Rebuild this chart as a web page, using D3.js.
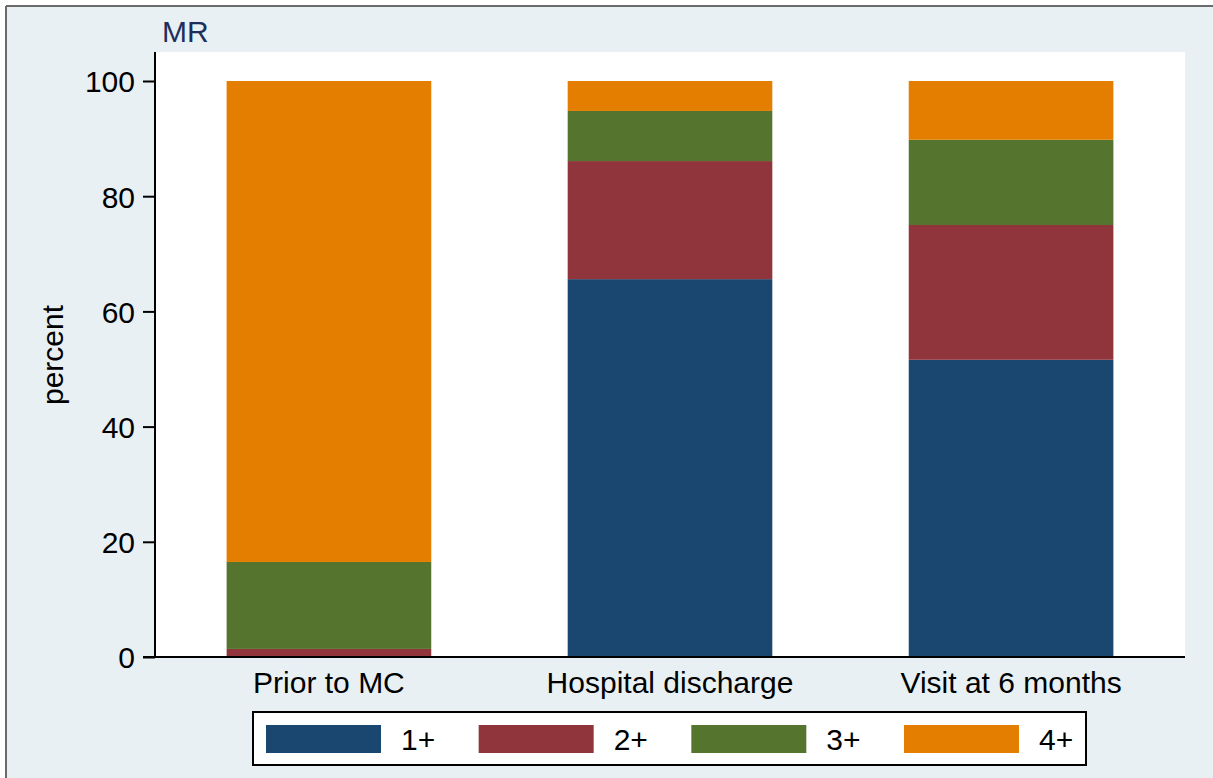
<!DOCTYPE html>
<html lang="en">
<head>
  <meta charset="UTF-8" />
  <title>MR - stacked percent</title>
  <style>
    body { margin: 0; padding: 0; background: #fff; }
    svg { display: block; font-family: "Liberation Sans", Arial, sans-serif; }
    .tick text { font-size: 30px; fill: #000; }
  </style>
</head>
<body>
  <svg id="chart" width="1213" height="778"></svg>
  <script src="https://d3js.org/d3.v7.min.js"></script>
  <script>
    // data (percent of patients per MR grade)
    const categories = ["Prior to MC", "Hospital discharge", "Visit at 6 months"];
    const grades = ["1+", "2+", "3+", "4+"];
    const grade1 = [0, 65.6, 51.6];
    const grade2 = [1.4, 20.5, 23.4];
    const grade3 = [15.1, 8.7, 14.8];
    const grade4 = [83.5, 5.2, 10.2];
    const yTicks = [0, 20, 40, 60, 80, 100];
    const colors = ["#1a476f", "#90353b", "#55752f", "#e37e00"];

    const rows = categories.map((c, i) => ({
      cat: c, "1+": grade1[i], "2+": grade2[i], "3+": grade3[i], "4+": grade4[i]
    }));

    const W = 1213, H = 778;
    const plot = { left: 155, right: 1185, top: 52, bottom: 657 };

    const svg = d3.select("#chart");

    // graph region background + frame lines
    svg.append("rect").attr("width", W).attr("height", H).attr("fill", "#fff");
    svg.append("rect").attr("x", 7).attr("y", 7).attr("width", W - 7).attr("height", H - 7)
      .attr("fill", "#e8f0f3");
    svg.append("line").attr("x1", 6).attr("x2", W).attr("y1", 6).attr("y2", 6)
      .attr("stroke", "#6b6b6b").attr("stroke-width", 2);
    svg.append("line").attr("x1", 6).attr("x2", 6).attr("y1", 6).attr("y2", H)
      .attr("stroke", "#6b6b6b").attr("stroke-width", 2);

    // plot region
    svg.append("rect")
      .attr("x", plot.left).attr("y", plot.top)
      .attr("width", plot.right - plot.left).attr("height", plot.bottom - plot.top)
      .attr("fill", "#fff");

    const x = d3.scaleBand()
      .domain(categories)
      .range([plot.left, plot.right])
      .paddingInner(0.4)
      .paddingOuter(0.21);

    const y = d3.scaleLinear().domain([0, 100]).range([plot.bottom, 81]);

    const stacked = d3.stack().keys(grades)(rows);

    svg.append("g").selectAll("g")
      .data(stacked)
      .enter().append("g")
      .attr("fill", (d, i) => colors[i])
      .selectAll("rect")
      .data(d => d)
      .enter().append("rect")
      .attr("x", d => x(d.data.cat))
      .attr("width", x.bandwidth())
      .attr("y", d => y(d[1]))
      .attr("height", d => y(d[0]) - y(d[1]));

    // y axis
    const yAxis = svg.append("g")
      .attr("transform", `translate(${plot.left},0)`)
      .call(d3.axisLeft(y).tickValues(yTicks).tickSize(12).tickPadding(8).tickSizeOuter(0));
    yAxis.select(".domain").remove();
    yAxis.selectAll(".tick line").attr("stroke", "#000").attr("stroke-width", 2);
    yAxis.selectAll(".tick text").attr("dy", "0.36em");
    svg.append("line")
      .attr("x1", plot.left).attr("x2", plot.left)
      .attr("y1", plot.top).attr("y2", plot.bottom + 1)
      .attr("stroke", "#000").attr("stroke-width", 2);

    // x axis
    const xAxis = svg.append("g")
      .attr("transform", `translate(0,${plot.bottom})`)
      .call(d3.axisBottom(x).tickSize(0).tickPadding(15));
    xAxis.select(".domain").remove();
    xAxis.selectAll(".tick text").attr("dy", "0.71em");
    svg.append("line")
      .attr("x1", plot.left - 12).attr("x2", plot.right)
      .attr("y1", plot.bottom).attr("y2", plot.bottom)
      .attr("stroke", "#000").attr("stroke-width", 2);

    // titles
    svg.append("text")
      .attr("x", 162).attr("y", 42)
      .attr("font-size", 30)
      .attr("fill", "#1e2f5a")
      .text("MR");

    svg.append("text")
      .attr("transform", "translate(63,355) rotate(-90)")
      .attr("text-anchor", "middle")
      .attr("font-size", 30)
      .attr("fill", "#000")
      .text("percent");

    // legend
    const legend = svg.append("g");
    legend.append("rect")
      .attr("x", 253).attr("y", 712).attr("width", 833).attr("height", 53)
      .attr("fill", "#fff").attr("stroke", "#000").attr("stroke-width", 2);
    const lx = d3.scalePoint().domain(grades).range([266, 904]);
    const item = legend.selectAll("g.item")
      .data(grades)
      .enter().append("g")
      .attr("class", "item")
      .attr("transform", d => `translate(${lx(d)},725)`);
    item.append("rect")
      .attr("width", 115).attr("height", 28)
      .attr("fill", (d, i) => colors[i]);
    item.append("text")
      .attr("x", 135).attr("y", 25)
      .attr("font-size", 30)
      .attr("fill", "#000")
      .text(d => d);
  </script>
</body>
</html>
